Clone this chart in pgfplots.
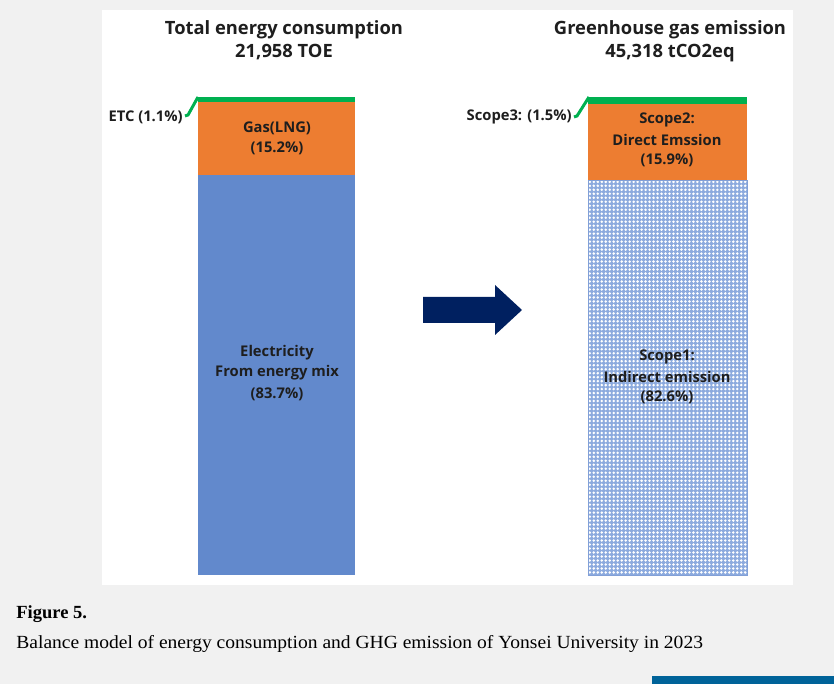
\documentclass[border=0pt]{standalone}
\usepackage{pgfplots}
\pgfplotsset{compat=1.18}
\usepackage{fontspec}
\usetikzlibrary{patterns}
\setmainfont{Open Sans}
\newfontfamily\capfont{Liberation Serif}

\definecolor{bgray}{RGB}{241,241,241}
\definecolor{elec}{RGB}{98,137,204}
\definecolor{gasor}{RGB}{237,125,49}
\definecolor{etcgr}{RGB}{0,176,80}
\definecolor{scopebl}{RGB}{140,170,222}
\definecolor{scopeedge}{RGB}{130,160,215}
\definecolor{navy}{RGB}{0,32,96}
\definecolor{strip}{RGB}{0,99,153}
\definecolor{txt}{RGB}{30,30,30}

% white dot lattice for the scope bar
\pgfdeclarepatternformonly{mydots}{\pgfqpoint{-1pt}{-1pt}}{\pgfqpoint{1pt}{1pt}}{\pgfqpoint{2pt}{2pt}}{%
  \pgfpathcircle{\pgfqpoint{0pt}{0pt}}{0.7pt}\pgfusepath{fill}}

% axis box = whole picture, x in pixels, y in percent (bar base at px 575, top at px 97)
\pgfplotsset{panel/.style={
    width=417bp, height=342bp, scale only axis,
    xmin=0, xmax=834, ymin=-22.803, ymax=120.293,
    hide axis, clip=false, ybar stacked,
    at={(0,0)}, anchor=south west}}

\begin{document}
\begin{tikzpicture}
\begin{scope}[shift={(0bp,342bp)},x=0.5bp,y=-0.5bp]
  \fill[bgray] (0,0) rectangle (834,684);
  \fill[white] (102,10) rectangle (793,585);
\end{scope}

\begin{axis}[panel, bar width=157]
\addplot[fill=elec, draw=none] coordinates {(276.5,83.7)};
\addplot[fill=gasor, draw=none] coordinates {(276.5,15.2)};
\addplot[fill=etcgr, draw=none] coordinates {(276.5,1.1)};
\end{axis}

\begin{axis}[panel, bar width=159]
\addplot[fill=scopebl, draw=scopeedge, line width=0.5bp,
  postaction={pattern=mydots, pattern color=white}] coordinates {(667.5,82.6)};
\addplot[fill=gasor, draw=none] coordinates {(667.5,15.9)};
\addplot[fill=etcgr, draw=none] coordinates {(667.5,1.5)};
\end{axis}

\begin{scope}[shift={(0bp,342bp)},x=0.5bp,y=-0.5bp]
  \tikzset{ttl/.style={txt, font=\fontsize{9.2}{11}\selectfont\bfseries},
           lbl/.style={txt, font=\fontsize{7.4}{9}\selectfont\bfseries}}
  \node[ttl] at (284,30) {Total energy consumption};
  \node[ttl] at (284,52) {21,958 TOE};
  \node[ttl] at (670,30) {Greenhouse gas emission};
  \node[ttl] at (670,53) {45,318 tCO2eq};

  \node[lbl] at (277,128) {Gas(LNG)};
  \node[lbl] at (277,148) {(15.2\%)};
  \node[lbl] at (277,353) {Electricity};
  \node[lbl] at (277,373) {From energy mix};
  \node[lbl] at (277,394) {(83.7\%)};

  \node[lbl] at (667,120) {Scope2:};
  \node[lbl] at (667,140) {Direct Emssion};
  \node[lbl] at (667,160) {(15.9\%)};
  \node[lbl] at (667,357) {Scope1:};
  \node[lbl] at (667,377) {Indirect emission};
  \node[lbl] at (667,397) {(82.6\%)};

  \draw[etcgr, line width=1.5bp] (198,97) -- (188,115) -- (185,116);
  \node[lbl, anchor=east, inner sep=0pt] at (183,117) {ETC (1.1\%)};
  \draw[etcgr, line width=1.5bp] (589,97) -- (577,116) -- (574,117);
  \node[lbl, anchor=east, inner sep=0pt] at (572,117) {Scope3: (1.5\%)};

  \fill[navy] (423,297) -- (495,297) -- (495,285) -- (522,310) -- (495,335)
    -- (495,323) -- (423,323) -- cycle;

  \node[anchor=base west, inner sep=0pt, font=\capfont\bfseries\fontsize{9.3}{11}\selectfont, black]
    at (16,619) {Figure 5.};
  \node[anchor=base west, inner sep=0pt, font=\capfont\fontsize{9.3}{11}\selectfont, black]
    at (16,649) {\scalebox{1.054}[1]{Balance model of energy consumption and GHG emission of Yonsei University in 2023}};

  \fill[strip] (652,676) rectangle (834,684);
\end{scope}
\end{tikzpicture}
\end{document}
